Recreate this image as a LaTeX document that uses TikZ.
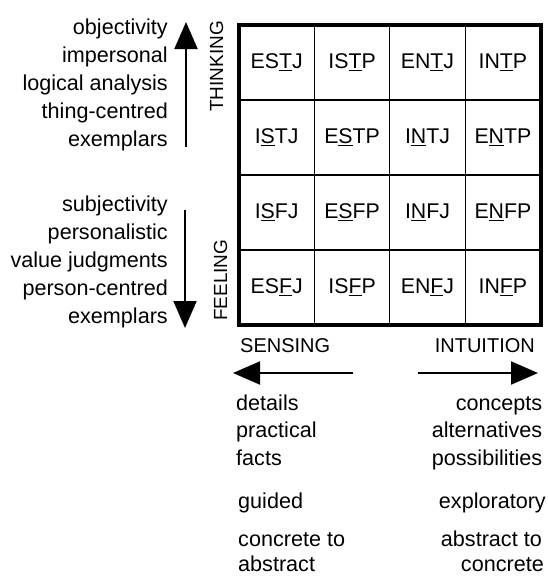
\documentclass[tikz,border=0pt]{standalone}
\usepackage{fontspec}
\setmainfont{Liberation Sans}
\usetikzlibrary{arrows.meta}

\begin{document}
\begin{tikzpicture}[
  x=1pt, y=-1pt,
  cell/.style={
    draw=black,
    line width=1.2pt,
    minimum width=75.4pt,
    minimum height=75pt,
    inner sep=0pt,
    outer sep=0pt,
    font=\fontsize{21.3}{25}\selectfont
  },
  side/.style={
    inner sep=0pt,
    font=\fontsize{21.6}{25}\selectfont
  },
  head/.style={
    inner sep=0pt,
    font=\fontsize{20}{24}\selectfont
  },
  bigarrow/.style={
    line width=2pt,
    -{Triangle[length=27pt,width=23pt]}
  }
]

% Page frame
\useasboundingbox (0,0) rectangle (548,576);

% Grid of the sixteen types
\foreach \name/\txt [count=\i from 0] in {
  estj/ES\underline{T}J, istp/IS\underline{T}P, entj/EN\underline{T}J, intp/IN\underline{T}P,
  istj/I\underline{S}TJ, estp/E\underline{S}TP, intj/I\underline{N}TJ, entp/E\underline{N}TP,
  isfj/I\underline{S}FJ, esfp/E\underline{S}FP, infj/I\underline{N}FJ, enfp/E\underline{N}FP,
  esfj/ES\underline{F}J, isfp/IS\underline{F}P, enfj/EN\underline{F}J, infp/IN\underline{F}P}
{
  \pgfmathtruncatemacro\row{div(\i,4)}
  \pgfmathtruncatemacro\col{mod(\i,4)}
  \node[cell] (\name) at (276.7+75.4*\col, 62.5+75*\row) {\txt};
}

% Heavy outer frame
\draw[line width=4pt] (estj.north west) rectangle (infp.south east);

% Left: thinking
\foreach \txt [count=\i from 0] in {objectivity, impersonal, logical analysis, thing-centred, exemplars}
  \node[side, anchor=base east] (think\i) at (168, 34+28*\i) {\txt};
\coordinate (thinkfoot) at (186,147);
\coordinate (thinktip) at (186,22);
\draw[bigarrow] (thinkfoot) -- (thinktip);
\node[head, font=\fontsize{19}{23}\selectfont, rotate=90, anchor=base east] (thinking) at (223,21) {THINKING};

% Left: feeling
\foreach \txt [count=\i from 0] in {subjectivity, personalistic, value judgments, person-centred, exemplars}
  \node[side, anchor=base east] (feel\i) at (168, 211+28*\i) {\txt};
\coordinate (feelfoot) at (185,210);
\coordinate (feeltip) at (185,328);
\draw[bigarrow] (feelfoot) -- (feeltip);
\node[head, font=\fontsize{19}{23}\selectfont, rotate=90, anchor=base west] (feeling) at (227,321) {FEELING};

% Bottom left: sensing
\node[head, anchor=base west] (sensing) at (240,352) {SENSING};
\coordinate (sensefoot) at (353,373);
\coordinate (sensetip) at (233,373);
\draw[bigarrow] (sensefoot) -- (sensetip);
\foreach \txt [count=\i from 0] in {details, practical, facts}
  \node[side, anchor=base west] (sense\i) at (236, 410+27.5*\i) {\txt};
\node[side, anchor=base west] (guided) at (238,508) {guided};
\node[side, anchor=base west] (conc1) at (238,546) {concrete to};
\node[side, anchor=base west] (conc2) at (238,571.5) {abstract};

% Bottom right: intuition
\node[head, anchor=base east] (intuition) at (535,352) {INTUITION};
\coordinate (intfoot) at (418,373);
\coordinate (inttip) at (538,373);
\draw[bigarrow] (intfoot) -- (inttip);
\foreach \txt [count=\i from 0] in {concepts, alternatives, possibilities}
  \node[side, anchor=base east] (int\i) at (542.5, 410+27.5*\i) {\txt};
\node[side, anchor=base east] (exploratory) at (546,508) {exploratory};
\node[side, anchor=base east] (abst1) at (542,546) {abstract to};
\node[side, anchor=base east] (abst2) at (544,571.5) {concrete};

\end{tikzpicture}
\end{document}
